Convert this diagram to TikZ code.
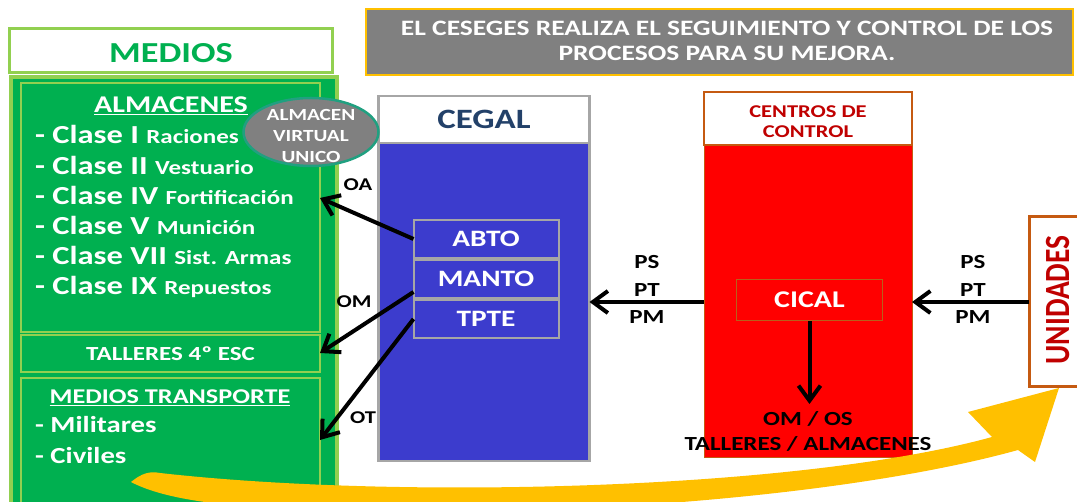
\documentclass[tikz,border=0pt]{standalone}
\usepackage{fontspec}
\usepackage{graphicx}
\setmainfont[FakeStretch=1.25]{Carlito}
\newfontfamily\plainfont{Carlito}
\usetikzlibrary{arrows.meta,shapes.geometric,calc}
\definecolor{greenM}{HTML}{00B050}
\definecolor{lightG}{HTML}{92D050}
\definecolor{grayB}{HTML}{808080}
\definecolor{grayL}{HTML}{A6A6A6}
\definecolor{yellowB}{HTML}{FFC000}
\definecolor{blueC}{HTML}{3C3CCD}
\definecolor{navyC}{HTML}{234169}
\definecolor{redC}{HTML}{FF0000}
\definecolor{darkR}{HTML}{C00000}
\definecolor{orangeB}{HTML}{C55A11}
\definecolor{tealC}{HTML}{20A080}
\definecolor{cicalB}{HTML}{B8601A}
\newcommand\fsz[2]{\fontsize{#1}{#2}\selectfont}
\begin{document}
\begin{tikzpicture}[x=1pt,y=-1pt,
  sbox/.style={inner sep=0pt, outer sep=0pt, anchor=north west},
  wt/.style={text=white, inner sep=0pt},
  kt/.style={text=black, inner sep=0pt},
  fs/.style={font={\bfseries\fontsize{#1}{#1}\selectfont}},
  blk/.style={line width=4pt, -{Straight Barb[length=15pt,width=22pt]}}]
\fill[white] (0,0) rectangle (1077,502);
\useasboundingbox (0,0) rectangle (1077,502);

% banner
\node[sbox, fill=grayB, draw=yellowB, line width=2.5pt, minimum width=707pt, minimum height=66pt] (banner) at (366,9) {};
\node[wt, align=center, font={\bfseries\fsz{22}{25}}] (bannertxt) at (727,41) {EL CESEGES REALIZA EL SEGUIMIENTO Y CONTROL DE LOS\\PROCESOS PARA SU MEJORA.};

% MEDIOS
\node[sbox, fill=greenM, draw=lightG, line width=4pt, minimum width=326pt, minimum height=440pt] (medios) at (11,77) {};
\node[sbox, fill=white, draw=lightG, line width=3pt, minimum width=323pt, minimum height=44pt] (mhead) at (9.5,28.5) {};
\node[anchor=base, inner sep=0pt, text=greenM, fs=29] (mheadt) at (171,63) {MEDIOS};
\node[sbox, draw=lightG, line width=1.5pt, minimum width=299pt, minimum height=249pt] (alm) at (21,83) {};
\node[sbox, draw=lightG, line width=1.5pt, minimum width=299pt, minimum height=37pt, wt, fs=20] (tall) at (21,335) {TALLERES 4º ESC};
\node[sbox, draw=lightG, line width=1.5pt, minimum width=299pt, minimum height=140pt] (tran) at (21,378) {};

% CEGAL
\node[sbox, fill=white, draw=grayL, line width=2.5pt, minimum width=211pt, minimum height=47pt, text=navyC, fs=28] (cegal) at (378.5,96) {CEGAL};
\node[sbox, fill=blueC, draw=grayL, line width=2.5pt, minimum width=211pt, minimum height=318pt] (cegalb) at (378.5,143) {};
\node[sbox, fill=blueC, draw=grayL, line width=2pt, minimum width=145pt, minimum height=38pt, wt, fs=23.5] (abto) at (413.5,220) {ABTO};
\node[sbox, fill=blueC, draw=grayL, line width=2pt, minimum width=145pt, minimum height=38pt, wt, fs=23.5] (manto) at (413.5,260) {MANTO};
\node[sbox, fill=blueC, draw=grayL, line width=2pt, minimum width=145pt, minimum height=38pt, wt, fs=23.5] (tpte) at (413.5,300) {TPTE};

% CENTROS DE CONTROL
\node[sbox, fill=white, draw=orangeB, line width=2.5pt, minimum width=208pt, minimum height=53pt] (ccontrol) at (704,92) {};
\node[text=darkR, inner sep=0pt, align=center, font={\bfseries\fsz{18}{20}}] (cct) at (808,122) {CENTROS DE\\CONTROL};
\node[sbox, fill=redC, draw=orangeB, line width=1pt, minimum width=208pt, minimum height=312pt] (redb) at (704,146) {};
\node[draw=cicalB, line width=1.5pt, fill=redC, minimum width=146pt, minimum height=41pt, wt, fs=24] (cical) at (809.5,300) {CICAL};

% UNIDADES
\node[sbox, fill=white, draw=orangeB, line width=3pt, minimum width=60pt, minimum height=170pt] (unid) at (1029,217) {};
\node[rotate=90, inner sep=0pt, text=darkR] (unidt) at (1058,300) {\plainfont\bfseries\scalebox{1}[1.2]{\fsz{29.5}{32}UNIDADES}};

% ALMACEN VIRTUAL UNICO
\node[ellipse, fill=grayB, draw=tealC, line width=2.5pt, minimum width=135pt, minimum height=68pt, inner sep=0pt] (avu) at (311,132) {};
\node[wt, align=center, font={\bfseries\fsz{17}{21}}] (avut) at (311,136) {ALMACEN\\VIRTUAL\\UNICO};

% yellow swoosh
\fill[yellowB] (131,482) .. controls (142,473) and (150,471) .. (160,473)
  .. controls (400,500) and (800,490) .. (992,437) -- (968,412) -- (1059,388) -- (1035,462) -- (1018,450)
  .. controls (820,505) and (450,525) .. (230,505) .. controls (180,500) and (150,492) .. (131,482) -- cycle;

% texts of MEDIOS
\node[wt, anchor=base, fs=24] (almt) at (171,113) {\underline{ALMACENES}};
\node[wt, anchor=base west, fs=26] (c1) at (35,144) {- Clase I \fsz{20}{24}Raciones};
\node[wt, anchor=base west, fs=26] (c2) at (35,174.2) {- Clase II \fsz{20}{24}Vestuario};
\node[wt, anchor=base west, fs=26] (c3) at (35,204.4) {- Clase IV \fsz{20}{24}Fortificación};
\node[wt, anchor=base west, fs=26] (c4) at (35,234.6) {- Clase V \fsz{20}{24}Munición};
\node[wt, anchor=base west, fs=26] (c5) at (35,264.8) {- Clase VII \fsz{20}{24}Sist. Armas};
\node[wt, anchor=base west, fs=26] (c6) at (35,295) {- Clase IX \fsz{20}{24}Repuestos};
\node[wt, anchor=base, fs=21] (trant) at (170,404) {\underline{MEDIOS TRANSPORTE}};
\node[wt, anchor=base west, fs=23] (mil) at (35,433) {- Militares};
\node[wt, anchor=base west, fs=23] (civ) at (35,464) {- Civiles};

% labels
\node[kt, fs=18] (oal) at (358,185) {OA};
\node[kt, fs=18] (oml) at (354,302) {OM};
\node[kt, fs=18] (otl) at (363,418) {OT};
\node[kt, align=center, font={\bfseries\fsz{20}{27.5}}] (pl) at (647,289.5) {PS\\PT\\PM};
\node[kt, align=center, font={\bfseries\fsz{20}{27.5}}] (pr) at (973,289.5) {PS\\PT\\PM};
\node[kt, align=center, font={\bfseries\fsz{20}{25}}] (omos) at (808,431) {OM / OS\\TALLERES / ALMACENES};

% arrows
\coordinate (oaE) at (320,198);
\coordinate (omE) at (320,353);
\coordinate (otE) at (320,440);
\coordinate (cicalE) at (809.5,404);
\draw[blk] (abto.west) -- (oaE);
\draw[blk] ($(manto.south west)+(0,-6)$) -- (omE);
\draw[blk] (tpte.west) -- (otE);
\draw[blk] (redb.west) -- (cegalb.east);
\draw[blk] (unid.west) -- (redb.east);
\draw[blk] (cical.south) -- (cicalE);
\end{tikzpicture}
\end{document}
